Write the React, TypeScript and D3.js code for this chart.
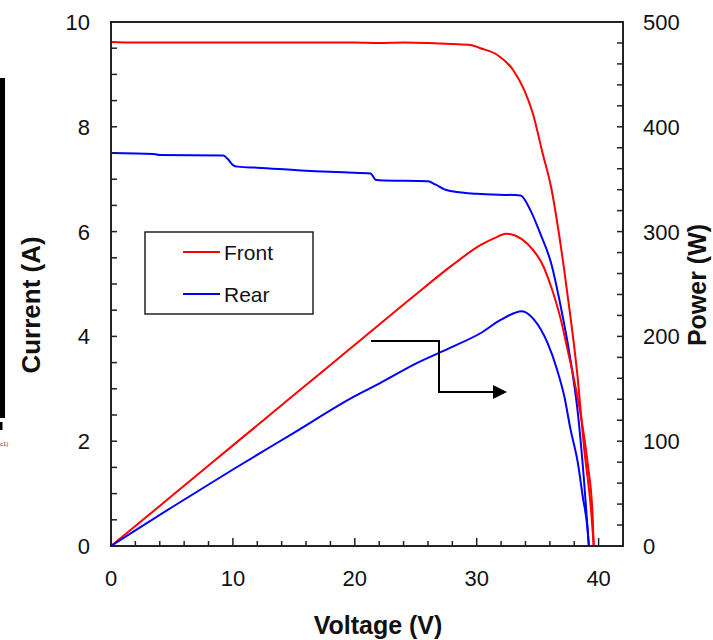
import React from 'react';
import * as d3 from 'd3';

// front (bifacial module, front side) I-V curve
const frontIV_V = [0, 2, 5, 10, 15, 20, 22, 24, 26, 28, 29.5, 30.3, 31.7, 33.0, 33.9, 34.6, 35.4, 36.1, 36.7, 37.4, 38.3, 38.8, 39.4, 39.6];
const frontIV_I = [9.62, 9.61, 9.61, 9.61, 9.61, 9.61, 9.6, 9.61, 9.6, 9.58, 9.56, 9.5, 9.37, 9.08, 8.7, 8.26, 7.5, 6.85, 6.03, 4.88, 3.17, 1.89, 0.63, 0];

// rear side I-V curve
const rearIV_V = [0, 3.5, 4, 9.2, 9.6, 10, 10.4, 12, 16, 19.4, 21.3, 21.7, 22, 26, 26.6, 27.4, 28, 30, 33.6, 34.4, 35.2, 36.1, 36.9, 37.6, 38.3, 38.8, 39.2];
const rearIV_I = [7.5, 7.48, 7.46, 7.45, 7.38, 7.27, 7.24, 7.22, 7.16, 7.13, 7.11, 6.99, 6.98, 6.96, 6.9, 6.8, 6.77, 6.72, 6.69, 6.41, 5.97, 5.4, 4.56, 3.68, 2.53, 1.26, 0];

// P-V curves
const frontPV_V = [0, 2, 5, 10, 15, 20, 25, 28, 30.3, 31.5, 32.4, 33.2, 34.2, 35.5, 36.2, 36.9, 37.4, 38.0, 38.5, 39.1, 39.5, 39.6];
const frontPV_P = [0, 19, 48, 96, 144, 192, 240, 268, 287, 294, 298, 296, 288, 266, 244, 216, 190, 158, 127, 79, 31, 0];
const rearPV_V = [0, 2, 5, 10, 15, 20, 22, 25, 28, 30.3, 32, 33.7, 34.7, 35.8, 36.6, 37.2, 37.7, 38.3, 38.7, 39.1, 39.2];
const rearPV_P = [0, 14.9, 37, 73, 108, 143, 155, 174, 190, 203, 216, 224, 216, 194, 168, 142, 111, 79, 47, 15, 0];

const xTicks = [0, 10, 20, 30, 40];
const yLeftTicks = [0, 2, 4, 6, 8, 10];
const yRightTicks = [0, 100, 200, 300, 400, 500];
const legendLabels = ['Front', 'Rear'];
const legendColors = ['#ff0000', '#0000ff'];

const W = 713;
const H = 640;
const left = 111;
const right = 623;
const top = 22;
const bottom = 546;
const font = '"Liberation Sans", Arial, sans-serif';

const App = () => {
  const x = d3.scaleLinear().domain([0, 42]).range([left, right]);
  const yI = d3.scaleLinear().domain([0, 10]).range([bottom, top]);
  const yP = d3.scaleLinear().domain([0, 500]).range([bottom, top]);

  const curve = (xs: number[], ys: number[], yScale: d3.ScaleLinear<number, number>) =>
    d3.line<number>()
      .x((_, i) => x(xs[i]))
      .y(d => yScale(d))
      .curve(d3.curveMonotoneX)(ys) || '';

  const xMinor = d3.range(0, 42.01, 2);
  const yMinor = d3.range(0, 10.01, 0.5);
  const pMinor = d3.range(0, 500.1, 20);

  return (
    <svg width={W} height={H} style={{ position: 'absolute', left: 0, top: 0 }} fontFamily={font}>
      <rect x={0} y={0} width={W} height={H} fill="#fff" />
      {/* cropped artefacts at left edge */}
      <rect x={0} y={78} width={5} height={340} fill="#000" />
      <rect x={0} y={422} width={2.5} height={8} fill="#000" />
      <text x={0} y={446} fontSize={6} fill="#444">c1)</text>

      {/* curves */}
      <path d={curve(frontIV_V, frontIV_I, yI)} fill="none" stroke="#ff0000" strokeWidth={2} />
      <path d={curve(rearIV_V, rearIV_I, yI)} fill="none" stroke="#0000ff" strokeWidth={2} />
      <path d={curve(frontPV_V, frontPV_P, yP)} fill="none" stroke="#ff0000" strokeWidth={2} />
      <path d={curve(rearPV_V, rearPV_P, yP)} fill="none" stroke="#0000ff" strokeWidth={2} />

      {/* frame */}
      <rect x={left} y={top} width={right - left} height={bottom - top} fill="none" stroke="#222" strokeWidth={2} />

      {/* ticks */}
      {xMinor.map(v => {
        const major = xTicks.includes(v);
        return <line key={'xm' + v} x1={x(v)} x2={x(v)} y1={bottom} y2={bottom - (major ? 8 : 5)} stroke="#222" strokeWidth={1.5} />;
      })}
      {yMinor.map(v => (
        <line key={'ym' + v} x1={left} x2={left + 6} y1={yI(v)} y2={yI(v)} stroke="#222" strokeWidth={1.5} />
      ))}
      {pMinor.map(v => (
        <line key={'pm' + v} x1={right} x2={right - 6} y1={yP(v)} y2={yP(v)} stroke="#222" strokeWidth={1.5} />
      ))}

      {/* tick labels */}
      {xTicks.map(v => (
        <text key={'xt' + v} x={x(v)} y={586} fontSize={22} textAnchor="middle" fill="#111">{v}</text>
      ))}
      {yLeftTicks.map(v => (
        <text key={'yt' + v} x={90} y={yI(v)} dy="0.36em" fontSize={22} textAnchor="end" fill="#111">{v}</text>
      ))}
      {yRightTicks.map(v => (
        <text key={'pt' + v} x={643} y={yP(v)} dy="0.36em" fontSize={22} textAnchor="start" fill="#111">{v}</text>
      ))}

      {/* axis titles */}
      <text x={378} y={634} fontSize={25} fontWeight="bold" textAnchor="middle" fill="#111">Voltage (V)</text>
      <text transform="translate(40,305) rotate(-90)" fontSize={26} fontWeight="bold" textAnchor="middle" fill="#111">Current (A)</text>
      <text transform="translate(706,285) rotate(-90)" fontSize={25} fontWeight="bold" textAnchor="middle" fill="#111">Power (W)</text>

      {/* legend */}
      <rect x={145} y={232} width={168} height={82} fill="#fff" stroke="#222" strokeWidth={1.5} />
      {legendLabels.map((l, i) => (
        <g key={l}>
          <line x1={183} x2={220} y1={252 + i * 42} y2={252 + i * 42} stroke={legendColors[i]} strokeWidth={2} />
          <text x={224} y={252 + i * 42} dy="0.36em" fontSize={21} fill="#111">{l}</text>
        </g>
      ))}

      {/* arrow: points the power curves to the right axis */}
      <polyline points="371,341 439,341 439,392 494,392" fill="none" stroke="#000" strokeWidth={2} />
      <polygon points="493,385 507,392 493,399" fill="#000" />
    </svg>
  );
};

export default App;
